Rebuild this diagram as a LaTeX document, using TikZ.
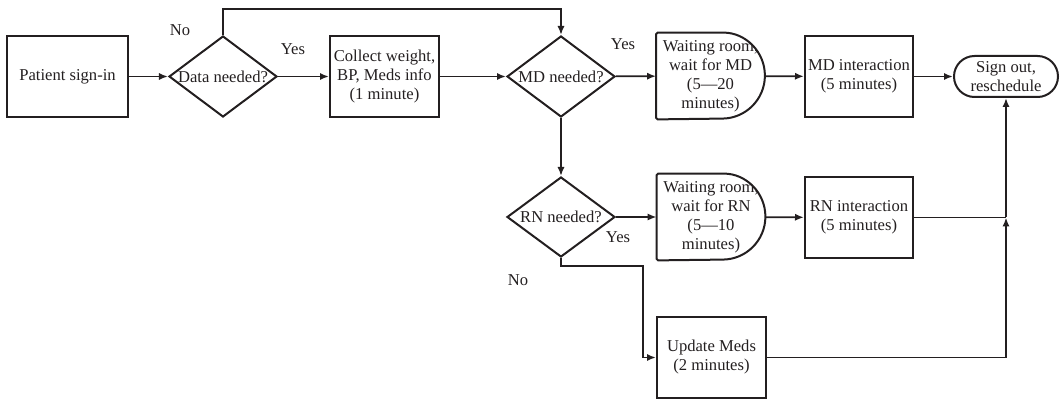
\documentclass[tikz,border=0pt]{standalone}
\usepackage{fontspec}
\setmainfont{Liberation Serif}
\usetikzlibrary{arrows.meta,shapes.geometric,shapes.misc}
\definecolor{ink}{HTML}{231F20}
\begin{document}
\begin{tikzpicture}[x=0.5pt,y=-0.5pt,
  every node/.style={font=\fontsize{8.3}{9.5}\selectfont, text=ink},
  box/.style={draw=ink, line width=1pt, rectangle, align=center, inner sep=0pt,
    minimum width=54.5pt, minimum height=40.5pt},
  choice/.style={draw=ink, line width=1pt, diamond, inner sep=0pt,
    minimum width=54pt, minimum height=40.5pt},
  waitbox/.style={rectangle, align=center, inner sep=0pt,
    minimum width=54pt, minimum height=43pt},
  terminal/.style={draw=ink, line width=1pt, rounded rectangle, align=center,
    inner sep=0pt, minimum width=52pt, minimum height=20.5pt},
  tag/.style={inner sep=0pt},
  flow/.style={draw=ink, line width=0.9pt, -{Latex[length=4.5pt,width=3.6pt]}},
  wire/.style={draw=ink, line width=0.9pt}
]
\useasboundingbox (0,0) rectangle (1062,401);

% Main row
\node[box, minimum width=60.5pt] (sign) at (67.5,76.5) {Patient sign-in};
\node[choice] (data) at (223,76.5) {\makebox[0pt]{Data needed?}};
\node[box] (collect) at (384.5,76.5) {Collect weight,\\BP, Meds info\\(1 minute)};
\node[choice] (md) at (561,76.5) {\makebox[0pt]{MD needed?}};
\node[waitbox] (wmd) at (710.5,76) {Waiting room,\\wait for MD\\(5—20\\minutes)};
\node[box, minimum width=54pt] (mdi) at (859,76.5) {MD interaction\\(5 minutes)};
\node[terminal] (out) at (1006,76.5) {Sign out,\\reschedule};

% RN row
\node[choice, minimum height=40pt] (rn) at (561,217) {\makebox[0pt]{RN needed?}};
\node[waitbox] (wrn) at (711,217) {Waiting room,\\wait for RN\\(5—10\\minutes)};
\node[box, minimum width=54pt] (rni) at (859,217.5) {RN interaction\\(5 minutes)};

% Medication update
\node[box] (upd) at (711.5,357.5) {Update Meds\\(2 minutes)};

% Delay outlines for the waiting rooms
\foreach \w in {wmd,wrn}{
  \draw[draw=ink, line width=1pt, rounded corners=0.8pt]
    (\w.north west) -- ([xshift=-21.5pt]\w.north east)
    [sharp corners] arc[start angle=90, end angle=-90, radius=21.5pt]
    [rounded corners=0.8pt] -- (\w.south west) -- cycle;
}

% Branch labels
\node[tag] (no1) at (180,30) {No};
\node[tag] (yes1) at (293,49) {Yes};
\node[tag] (yes2) at (623,44) {Yes};
\node[tag] (yes3) at (618,237) {Yes};
\node[tag] (no2) at (518,280) {No};

% Routing points
\coordinate (top) at (223,9);
\coordinate (join) at (out.south |- rni.east);
\coordinate (bend) at (643,266);

% Connectors
\draw[flow] (sign) -- (data);
\draw[flow] (data) -- (collect);
\draw[flow] (collect) -- (md);
\draw[flow] (md) -- (wmd);
\draw[flow] (wmd) -- (mdi);
\draw[flow] (mdi) -- (out);
\draw[flow] (data.north) -- (top) -| (md.north);
\draw[flow] (md) -- (rn);
\draw[flow] (rn) -- (wrn);
\draw[flow] (wrn) -- (rni);
\draw[wire] (rni.east) -- (join);
\draw[flow] (join) -- (out.south);
\draw[flow] (upd.east) -| (join);
\draw[flow] (rn.south) |- (bend) |- (upd.west);
\end{tikzpicture}
\end{document}
